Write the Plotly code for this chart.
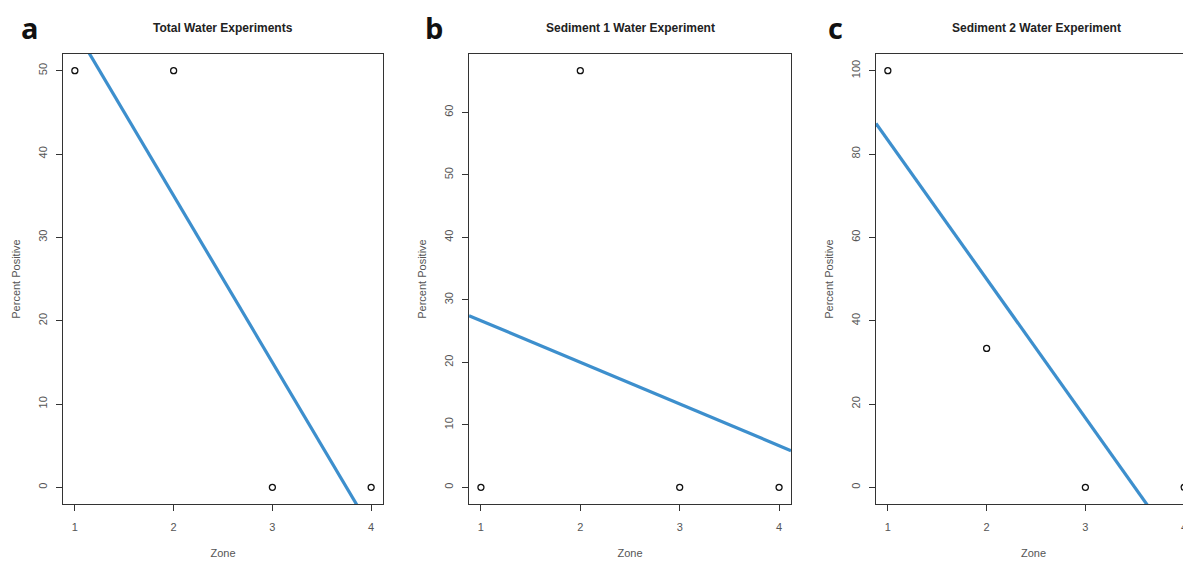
import numpy as np
import plotly.graph_objects as go

# ---- data ----
zones = [1, 2, 3, 4]
total_water = [50, 50, 0, 0]
sediment1_water = [0, 66.67, 0, 0]
sediment2_water = [100, 33.33, 0, 0]

panel_titles = ["Total Water Experiments", "Sediment 1 Water Experiment", "Sediment 2 Water Experiment"]
panel_letters = ["a", "b", "c"]
y_ticks = [[0, 10, 20, 30, 40, 50], [0, 10, 20, 30, 40, 50, 60], [0, 20, 40, 60, 80, 100]]
x_ticks = [1, 2, 3, 4]

series = [total_water, sediment1_water, sediment2_water]

# page body has an 8px margin, so figure coordinates = target pixels - 8
OFF = 8
W, H = 1191 - OFF, 562 - OFF
# target pixel layout of each plot box
boxes = [(63, 383), (469, 791), (876, 1191)]
top_px, bot_px = 54, 504
letter_x = [30, 434, 835]

LINE = "#3d8fcd"
AX = "#333333"
TXT = "#555555"

fig = go.Figure()
annotations = []

for i, (ys, (l, r)) in enumerate(zip(series, boxes)):
    ax = "" if i == 0 else str(i + 1)
    xa, ya = "x" + ax, "y" + ax
    # R-style 4% range extension
    xmin, xmax = min(zones), max(zones)
    dx = (xmax - xmin) * 0.04
    xr = [xmin - dx, xmax + dx]
    if i == 2:
        # last panel is cropped at the image edge
        unit = (383 - 63) / (4.12 - 0.88)
        xr = [xmin - dx, xmin - dx + (r - l) / unit]
    ymin, ymax = min(ys), max(ys)
    dy = (ymax - ymin) * 0.04
    yr = [ymin - dy, ymax + dy]

    # regression line (least squares fit of the points)
    slope, intercept = np.polyfit(zones, ys, 1)
    lx = np.array([xr[0], xr[1]])
    fig.add_trace(go.Scatter(x=lx, y=intercept + slope * lx, mode="lines",
                             line=dict(color=LINE, width=3.2), xaxis=xa, yaxis=ya,
                             showlegend=False, hoverinfo="skip"))
    fig.add_trace(go.Scatter(x=zones, y=ys, mode="markers",
                             marker=dict(symbol="circle-open", size=6, color="#111111",
                                         line=dict(width=1.3)),
                             xaxis=xa, yaxis=ya, showlegend=False, cliponaxis=False))

    common = dict(showgrid=False, zeroline=False, showline=True, linecolor=AX, linewidth=1.3,
                  mirror=True, ticks="outside", ticklen=6, tickwidth=1, tickcolor=AX,
                  automargin=False,
                  tickfont=dict(family="Liberation Sans, Arial", size=11, color=TXT))
    fl = (l - OFF) / W
    fr = min((r - OFF) / W, 1.0)
    fig.update_layout(**{
        "xaxis" + ax: dict(domain=[fl, fr], range=xr, tickvals=x_ticks, anchor=ya,
                           ticklabelstandoff=7,
                           title=dict(text="Zone", standoff=16,
                                      font=dict(family="Liberation Sans, Arial", size=11, color=TXT)),
                           **common),
        "yaxis" + ax: dict(domain=[1 - (bot_px - OFF) / H, 1 - (top_px - OFF) / H], range=yr,
                           tickvals=y_ticks[i], tickangle=-90, anchor=xa, ticklabelstandoff=4,
                           title=dict(text="Percent Positive", standoff=14,
                                      font=dict(family="Liberation Sans, Arial", size=11, color=TXT)),
                           **common),
    })

    annotations.append(dict(text="<b>" + panel_titles[i] + "</b>",
                            x=((l + (r if i < 2 else 1197)) / 2 - OFF) / W,
                            y=1 - (28 - OFF) / H, xref="paper", yref="paper", showarrow=False,
                            xanchor="center", yanchor="middle",
                            font=dict(family="Liberation Sans, Arial", size=12, color="#222222")))
    annotations.append(dict(text="<b>" + panel_letters[i] + "</b>", x=(letter_x[i] - OFF) / W,
                            y=1 - (27 - OFF) / H,
                            xref="paper", yref="paper", showarrow=False, xanchor="center",
                            yanchor="middle",
                            font=dict(family="Open Sans, Liberation Sans", size=29, color="#111111")))

fig.update_layout(width=W, height=H, margin=dict(l=0, r=0, t=0, b=0, autoexpand=False),
                  paper_bgcolor="white", plot_bgcolor="white", annotations=annotations)

fig.write_html("out.html")
